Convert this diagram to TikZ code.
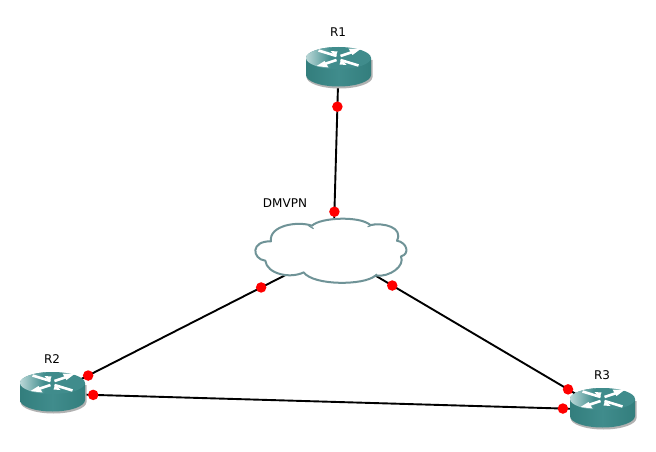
\documentclass[tikz,border=0pt]{standalone}
\usepackage{fontspec}
\usetikzlibrary{calc}
\setmainfont{DejaVu Sans}
\begin{document}
\begin{tikzpicture}[x=1pt,y=-1pt,
  link/.style={line width=1.9pt,black},
  dot/.style={circle,fill=red,inner sep=0pt,minimum size=10.5pt},
  lbl/.style={font=\fontsize{12}{14}\selectfont,inner sep=0pt,black},
  hub/.style={inner sep=0pt,minimum size=0pt},
  arrowline/.style={white,line width=2.6pt},
  routericon/.pic={
    \fill[gray!60] (-32,2) -- (-32,19) arc[start angle=180,end angle=0,x radius=33,y radius=11.5] -- (34,2) -- cycle;
    \path[left color=teal1,right color=teal1,middle color=teal2]
      (-32.5,0) -- (-32.5,17) arc[start angle=180,end angle=0,x radius=32.5,y radius=11.5] -- (32.5,0) -- cycle;
    \fill[teal2] (0,0) ellipse[x radius=32.5,y radius=11];
    \begin{scope}
      \clip (0,0) ellipse[x radius=32.5,y radius=11];
      \path[left color=teal3,right color=teal2] (-33,-12) rectangle (-8,12);
    \end{scope}
    \draw[arrowline] (-2,-2) -- (-20,-7.5);
    \draw[arrowline] (2,-2) -- (14,-6);
    \draw[arrowline] (-2,2) -- (-14,6);
    \draw[arrowline] (2,2) -- (20,7.5);
    \fill[white] (-3,-1) -- (-1,-6.5) -- (-8,-7) -- cycle;
    \fill[white] (22,-9) -- (10,-9.5) -- (14,-3) -- cycle;
    \fill[white] (-22,8) -- (-10,9.5) -- (-14,3) -- cycle;
    \fill[white] (3,1) -- (1,6.5) -- (8,7) -- cycle;
  }]
\definecolor{teal1}{HTML}{337E7D}
\definecolor{teal2}{HTML}{408C8C}
\definecolor{teal3}{HTML}{BCD9D9}
\definecolor{cloudline}{HTML}{6F9397}
\useasboundingbox (0,0) rectangle (656,452);
\fill[white] (0,0) rectangle (656,452);

\node[hub] (r1) at (338.5,67.7) {};
\node[hub] (r2) at (52.5,393.7) {};
\node[hub] (r3) at (602.5,409.7) {};
\node[hub] (dmvpn) at (333.3,250.7) {};

\draw[link] (r1.center) -- (dmvpn.center);
\draw[link] (r2.center) -- (dmvpn.center);
\draw[link] (dmvpn.center) -- (r3.center);
\draw[link] (r2.center) -- (r3.center);

\pic at (338.5,58) {routericon};
\pic at (52.5,383) {routericon};
\pic at (602.5,399) {routericon};

\begin{scope}[shift={(240.3,190.7)},x=0.3333pt,y=-0.3333pt]
  \draw[cloudline,fill=white,line width=2pt,line join=round]
    (215,105) .. controls (240,80) and (360,75) .. (390,103)
    .. controls (430,95) and (490,110) .. (470,150)
    .. controls (500,155) and (510,190) .. (482,197)
    .. controls (495,225) and (450,260) .. (405,255)
    .. controls (370,285) and (220,285) .. (190,245)
    .. controls (150,265) and (80,250) .. (75,210)
    .. controls (35,205) and (30,150) .. (92,152)
    .. controls (85,105) and (170,90) .. (215,105) -- cycle;
  \draw[cloudline,line width=1.2pt] (205,105) -- (220,114);
  \draw[cloudline,line width=1.2pt] (382,108) -- (405,100);
  \draw[cloudline,line width=1.2pt] (395,262) -- (410,250);
\end{scope}

\node[dot] (d1a) at ($(r1)!0.213!(dmvpn)$) {};
\node[dot] (d1b) at ($(r1)!0.787!(dmvpn)$) {};
\node[dot] (d2a) at ($(r2)!0.127!(dmvpn)$) {};
\node[dot] (d2b) at ($(r2)!0.743!(dmvpn)$) {};
\node[dot] (d3a) at ($(dmvpn)!0.219!(r3)$) {};
\node[dot] (d3b) at ($(dmvpn)!0.872!(r3)$) {};
\node[dot] (d4a) at ($(r2)!0.074!(r3)$) {};
\node[dot] (d4b) at ($(r2)!0.928!(r3)$) {};

\node[lbl] (lr1) at (338,32.5) {R1};
\node[lbl] (lr2) at (52,359) {R2};
\node[lbl] (lr3) at (602,375) {R3};
\node[lbl] (ldm) at (285,203) {DMVPN};
\end{tikzpicture}
\end{document}
